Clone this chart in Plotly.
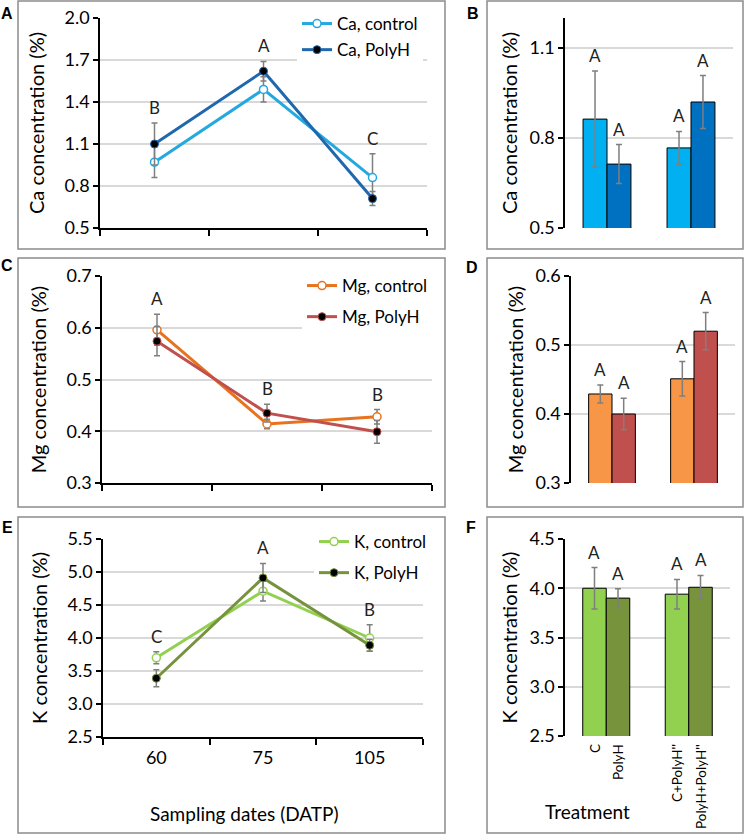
import plotly.graph_objects as go
from plotly.subplots import make_subplots

# ---- data ----
dates = ["60", "75", "105"]
treatments = ["C", "PolyH", "C+PolyH''", "PolyH+PolyH''"]

ca_control = [0.97, 1.49, 0.86]
ca_control_err = [0.11, 0.09, 0.17]
ca_polyh = [1.10, 1.62, 0.71]
ca_polyh_err = [0.15, 0.07, 0.05]
ca_date_letters = ["B", "A", "C"]

mg_control = [0.596, 0.414, 0.428]
mg_control_err = [0.030, 0.009, 0.014]
mg_polyh = [0.574, 0.435, 0.399]
mg_polyh_err = [0.028, 0.017, 0.022]
mg_date_letters = ["A", "B", "B"]

k_control = [3.70, 4.71, 4.00]
k_control_err = [0.09, 0.15, 0.20]
k_polyh = [3.39, 4.91, 3.89]
k_polyh_err = [0.13, 0.22, 0.09]
k_date_letters = ["C", "A", "B"]

ca_treat = [0.863, 0.713, 0.767, 0.920]
ca_treat_err = [0.160, 0.065, 0.055, 0.088]
ca_treat_letters = ["A", "A", "A", "A"]

mg_treat = [0.429, 0.400, 0.451, 0.520]
mg_treat_err = [0.013, 0.023, 0.025, 0.027]
mg_treat_letters = ["A", "A", "A", "A"]

k_treat = [4.00, 3.90, 3.94, 4.01]
k_treat_err = [0.21, 0.095, 0.15, 0.12]
k_treat_letters = ["A", "A", "A", "A"]

W, H = 744, 834
FONT = "Lato"
ERR = "#7F7F7F"
GRID = "#D9D9D9"


def px_x(p):
    return p / W


def px_y(p):
    return 1 - p / H


fig = make_subplots(rows=3, cols=2)

rows = [
    dict(el="Ca", ctrl=ca_control, ctrl_err=ca_control_err, poly=ca_polyh, poly_err=ca_polyh_err,
         letters=ca_date_letters, treat=ca_treat, treat_err=ca_treat_err, treat_letters=ca_treat_letters,
         line_c=["#23A8E0", "#1F68AE"], bar_c=["#00B0F0", "#0070C0"],
         lrange=[0.5, 2.0], ldtick=0.3, brange=[0.5, 1.2], bdtick=0.3,
         lx=[100, 427], bx=[565, 733], ly=[18, 228], byy=[18, 228]),
    dict(el="Mg", ctrl=mg_control, ctrl_err=mg_control_err, poly=mg_polyh, poly_err=mg_polyh_err,
         letters=mg_date_letters, treat=mg_treat, treat_err=mg_treat_err, treat_letters=mg_treat_letters,
         line_c=["#E8731E", "#C0504D"], bar_c=["#F79646", "#C0504D"],
         lrange=[0.3, 0.7], ldtick=0.1, brange=[0.3, 0.6], bdtick=0.1,
         lx=[102, 432], bx=[571, 735], ly=[276, 483], byy=[276, 483]),
    dict(el="K", ctrl=k_control, ctrl_err=k_control_err, poly=k_polyh, poly_err=k_polyh_err,
         letters=k_date_letters, treat=k_treat, treat_err=k_treat_err, treat_letters=k_treat_letters,
         line_c=["#92D050", "#76923C"], bar_c=["#92D050", "#77933C"],
         lrange=[2.5, 5.5], ldtick=0.5, brange=[2.5, 4.5], bdtick=0.5,
         lx=[103, 423], bx=[565, 730], ly=[539, 737], byy=[539, 736]),
]

# legend left x, top y (px) and gap between the two entries
legend_pos = [(297, 6, 1), (302, 268, 6), (314, 524, 6)]
BAR_W = 0.57
BAR_OFF = [-0.07, -0.5]

annotations = []
for r, d in enumerate(rows, start=1):
    lg = "legend" if r == 1 else "legend%d" % r
    lxa = "x" if r == 1 else "x%d" % (2 * r - 1)
    lya = "y" if r == 1 else "y%d" % (2 * r - 1)
    names = ["%s, control" % d["el"], "%s, PolyH" % d["el"]]
    for k, (ys, es) in enumerate([(d["ctrl"], d["ctrl_err"]), (d["poly"], d["poly_err"])]):
        fig.add_trace(go.Scatter(
            x=dates, y=ys, name=names[k], mode="lines+markers",
            line=dict(color=d["line_c"][k], width=3),
            marker=dict(size=8, color="white" if k == 0 else "black",
                        line=dict(color=d["line_c"][k], width=1.5 if k == 0 else 1)),
            error_y=dict(type="data", array=es, color=ERR, thickness=1.5, width=3),
            legend=lg, legendgroup=names[k]), row=r, col=1)
    for i, lt in enumerate(d["letters"]):
        top = max(d["ctrl"][i] + d["ctrl_err"][i], d["poly"][i] + d["poly_err"][i])
        annotations.append(dict(x=i, y=top, xref=lxa, yref=lya, text=lt, showarrow=False,
                                xanchor="center", yanchor="bottom", yshift=3,
                                font=dict(family=FONT, size=17, color="#222")))

    # treatment bars
    xa = "x%d" % (2 * r)
    ya = "y%d" % (2 * r)
    ppc = (d["bx"][1] - d["bx"][0]) / len(treatments)
    for k in range(2):
        fig.add_trace(go.Bar(
            x=treatments[k::2], y=d["treat"][k::2], width=BAR_W, offset=BAR_OFF[k],
            marker=dict(color=d["bar_c"][k], line=dict(color="black", width=1)),
            error_y=dict(type="data", array=d["treat_err"][k::2], color=ERR, thickness=1.5, width=3),
            showlegend=False), row=r, col=2)
    for i, t in enumerate(treatments):
        shift = (BAR_OFF[i % 2] + BAR_W / 2) * ppc
        annotations.append(dict(x=t, y=d["treat"][i] + d["treat_err"][i], xref=xa, yref=ya,
                                text=d["treat_letters"][i], showarrow=False, xanchor="center",
                                yanchor="bottom", xshift=shift, yshift=3,
                                font=dict(family=FONT, size=17, color="#222")))
        if r == 3:
            annotations.append(dict(x=t, y=px_y(742), xref=xa, yref="paper", text=t, showarrow=False,
                                    textangle=-90, yanchor="top", xanchor="center", xshift=shift,
                                    font=dict(family=FONT, size=13.5, color="black")))

    title = "%s concentration (%%)" % d["el"]
    tfont = dict(family=FONT, size=18, color="black")
    fig.update_xaxes(type="category", range=[-0.5, 2.5], domain=[px_x(d["lx"][0]), px_x(d["lx"][1])],
                     showline=True, linecolor="black", linewidth=1.5, ticks="outside", tickson="boundaries",
                     ticklen=6, tickcolor="black", tickwidth=1.5, showgrid=False,
                     showticklabels=(r == 3), tickfont=tfont, ticklabelstandoff=4,
                     row=r, col=1)
    fig.update_yaxes(range=d["lrange"], dtick=d["ldtick"], tick0=d["lrange"][0], tickformat=".1f",
                     domain=[px_y(d["ly"][1]), px_y(d["ly"][0])],
                     showline=True, linecolor="black", linewidth=1.5, ticks="outside", ticklen=5,
                     tickcolor="black", tickwidth=1.5, gridcolor=GRID, gridwidth=1.5, zeroline=False,
                     tickfont=tfont,
                     title=dict(text=title, font=dict(family=FONT, size=20, color="black"), standoff=15),
                     row=r, col=1)
    fig.update_xaxes(type="category", categoryorder="array", categoryarray=treatments,
                     range=[-0.5, 3.5], domain=[px_x(d["bx"][0]), px_x(d["bx"][1])],
                     showline=False, ticks="", showgrid=False, showticklabels=False, row=r, col=2)
    fig.update_yaxes(range=d["brange"], dtick=d["bdtick"], tick0=d["brange"][0], tickformat=".1f",
                     domain=[px_y(d["byy"][1]), px_y(d["byy"][0])],
                     showline=True, linecolor="black", linewidth=1.5, ticks="outside", ticklen=5,
                     tickcolor="black", tickwidth=1.5, gridcolor=GRID, gridwidth=1.5, zeroline=False,
                     tickfont=tfont,
                     title=dict(text=title, font=dict(family=FONT, size=20, color="black"), standoff=7),
                     row=r, col=2)

# axis titles and panel letters
annotations.append(dict(x=px_x(244), y=px_y(813), xref="paper", yref="paper", text="Sampling dates (DATP)",
                        showarrow=False, xanchor="center", yanchor="middle",
                        font=dict(family=FONT, size=19, color="black")))
annotations.append(dict(x=px_x(587), y=px_y(811), xref="paper", yref="paper", text="Treatment",
                        showarrow=False, xanchor="center", yanchor="middle",
                        font=dict(family=FONT, size=19, color="black")))
for lt, (lx, ly) in zip("ABCDEF", [(7, 13), (473, 13), (7, 265), (472, 267), (7, 527), (471, 527)]):
    annotations.append(dict(x=px_x(lx), y=px_y(ly), xref="paper", yref="paper", text="<b>%s</b>" % lt,
                            showarrow=False, xanchor="center", yanchor="middle",
                            font=dict(family="Liberation Sans", size=16, color="black")))

boxes = [(18, 1, 445, 249), (487, 1, 743, 249), (18, 258, 445, 507), (487, 258, 743, 507),
         (18, 517, 445, 833), (487, 517, 743, 833)]
shapes = [dict(type="rect", xref="paper", yref="paper", x0=px_x(a), x1=px_x(c), y0=px_y(b), y1=px_y(e),
               line=dict(color="#8C8C8C", width=1.5), layer="below") for a, b, c, e in boxes]

legends = {}
for r, (lx, ly, gap) in enumerate(legend_pos, start=1):
    key = "legend" if r == 1 else "legend%d" % r
    legends[key] = dict(x=px_x(lx), y=px_y(ly), xanchor="left", yanchor="top", bgcolor="white",
                        font=dict(family=FONT, size=17, color="black"), tracegroupgap=gap)

fig.update_layout(width=W, height=H, margin=dict(l=0, r=0, t=0, b=0, autoexpand=False),
                  plot_bgcolor="white", paper_bgcolor="white", barmode="overlay",
                  annotations=annotations, shapes=shapes, **legends)

# the page body has a default 8px margin; drop it so the figure fills the window
fig.write_html("out.html", config={"displayModeBar": False},
               post_script="document.body.style.margin = '0px';")
